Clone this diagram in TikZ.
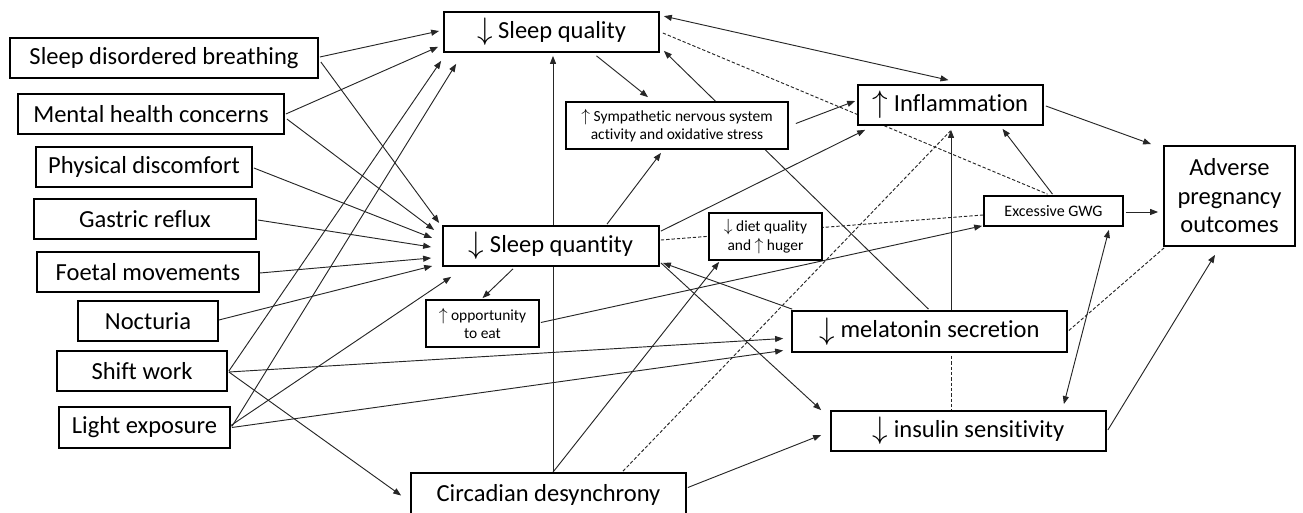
\documentclass[tikz,border=0pt]{standalone}
\usepackage{graphicx}
\usepackage{fontspec}
\setmainfont{Carlito}[Ligatures=NoCommon]
\usetikzlibrary{arrows.meta,calc,backgrounds}
\newcommand\dnarr{\raisebox{-0.06em}{\scalebox{1.35}{$\downarrow$}}}
\newcommand\uparr{\raisebox{-0.06em}{\scalebox{1.35}{$\uparrow$}}}
\newcommand\sdnarr{\scalebox{1.1}{$\downarrow$}}
\newcommand\suparr{\scalebox{1.1}{$\uparrow$}}
\begin{document}
\begin{tikzpicture}[x=0.75pt,y=-0.75pt,
  box/.style={draw=black, line width=1.3pt, fill=white, inner sep=0pt, align=center, font=\fontsize{18.4}{22}\selectfont},
  sbox/.style={box, font=\fontsize{11.6}{13.5}\selectfont},
  sz/.style 2 args={minimum width=#1*0.75pt, minimum height=#2*0.75pt},
  conn/.style={line width=0.7pt, draw=black!85, -{Triangle[length=6pt,width=4.5pt]}},
  twoway/.style={conn, {Triangle[length=6pt,width=4.5pt]}-{Triangle[length=6pt,width=4.5pt]}},
  dline/.style={line width=0.7pt, draw=black!85, dash pattern=on 2.5pt off 1.5pt},
]
\useasboundingbox (0,0) rectangle (1303,513);

\node[box, sz={215}{40}] (sq) at (551.5,32) {\dnarr\ Sleep quality};
\node[box, sz={308}{40}] (sdb) at (164,58) {Sleep disordered breathing};
\node[box, sz={266}{40}] (mhc) at (151,114) {Mental health concerns};
\node[box, sz={216}{40}] (pd) at (144,167) {Physical discomfort};
\node[box, sz={222}{40}] (gr) at (145,219) {Gastric reflux};
\node[box, sz={222}{40}] (fm) at (148,272) {Foetal movements};
\node[box, sz={140}{40}] (noct) at (148,321) {Nocturia};
\node[box, sz={170}{40}] (shift) at (142,371) {Shift work};
\node[box, sz={171}{41}] (light) at (144.5,427.5) {Light exposure};
\node[box, sz={216}{40}] (squant) at (551,246) {\dnarr\ Sleep quantity};
\node[sbox, sz={222}{47}] (sns) at (677,125.5) {\suparr\ Sympathetic nervous system\\activity and oxidative stress};
\node[sbox, sz={113}{47}, font=\fontsize{11.6}{14.5}\selectfont] (diet) at (765.5,236.5) {\sdnarr\ diet quality\\and \suparr\ huger};
\node[sbox, sz={113}{47}, font=\fontsize{11.6}{14}\selectfont] (opp) at (482.5,323.5) {\suparr\ opportunity\\to eat};
\node[box, sz={275}{43}] (circ) at (548.5,494.5) {Circadian desynchrony};
\node[box, sz={185}{40}] (infl) at (950.5,105) {\uparr\ Inflammation};
\node[box, sz={139}{30}, font=\fontsize{12}{14}\selectfont] (gwg) at (1053.5,211) {Excessive GWG};
\node[box, sz={131}{100}, font=\fontsize{18.4}{21.4}\selectfont] (apo) at (1229.5,196) {Adverse\\pregnancy\\outcomes};
\node[box, sz={275}{41}] (mel) at (929.5,331.5) {\dnarr\ melatonin secretion};
\node[box, sz={275}{40}] (ins) at (968.5,431) {\dnarr\ insulin sensitivity};

\begin{scope}[on background layer]
\draw[conn] ($(sdb.east)+(1,-1)$) -- ($(sq.west)+(-4,-1)$);
\draw[conn] ($(mhc.east)+(1,0)$) -- ($(sq.south west)+(-5,-6)$);
\draw[conn] ($(sdb.east)+(2,4)$) -- ($(squant.west)+(-3,-23)$);
\draw[conn] ($(mhc.east)+(2,5)$) -- ($(squant.west)+(-8,-16)$);
\draw[conn] ($(pd.east)+(1,1)$) -- ($(squant.west)+(-10,-8)$);
\draw[conn] ($(gr.east)+(1,1)$) -- ($(squant.west)+(-11,1)$);
\draw[conn] ($(fm.east)+(0,1)$) -- ($(squant.west)+(-11,12)$);
\draw[conn] ($(noct.east)+(0,-1)$) -- ($(squant.west)+(-10,20)$);
\draw[conn] ($(light.east)+(0,-2)$) -- ($(squant.south west)+(9,10)$);
\draw[conn] ($(shift.east)+(1,0)$) -- ($(sq.south west)+(-2,8)$);
\draw[conn] ($(light.east)+(1,-1)$) -- ($(sq.south west)+(13,11)$);
\draw[conn] ($(shift.east)+(1,1)$) -- ($(mel.west)+(-8,7)$);
\draw[conn] ($(light.east)+(1,0)$) -- ($(mel.west)+(-8,19)$);
\draw[conn] ($(shift.east)+(1,1)$) -- ($(circ.west)+(-9,1)$);
\draw[conn] ($(sq.south)+(45,3)$) -- ($(sns.north)+(-29,-4)$);
\draw[conn] ($(mel.north)+(-1,-1)$) -- ($(sq.south east)+(4,-2)$);
\draw[conn] ($(squant.north)+(56,-1)$) -- ($(sns.south)+(-16,3)$);
\draw[conn] ($(squant.north east)+(1,6)$) -- ($(infl.south west)+(8,4)$);
\draw[conn] ($(sns.east)+(7,-2)$) -- ($(infl.west)+(-2,-4)$);
\draw[twoway] ($(sq.north east)+(4,5)$) -- ($(infl.north)+(-2,-4)$);
\draw[dline] ($(sq.east)+(3,1)$) -- ($(gwg.north)+(-6,-1)$);
\draw[conn] ($(gwg.north)+(-1,-1)$) -- ($(infl.south)+(52,3)$);
\draw[conn] ($(infl.east)+(2,1)$) -- ($(apo.north west)+(-12,-1)$);
\draw[conn] ($(gwg.east)+(2,1)$) -- ($(apo.west)+(-5,16)$);
\draw[dline] ($(squant.east)+(1,-6)$) -- ($(gwg.west)+(0,4)$);
\draw[conn] ($(opp.east)+(1,-1)$) -- ($(gwg.south west)+(-1,-1)$);
\draw[conn] ($(squant.south)+(-38,2)$) -- ($(opp.north)+(0,-1)$);
\draw[conn] ($(circ.north)+(4.5,0)$) -- ($(sq.south)+(1.5,3)$);
\draw[conn] ($(circ.north)+(4.5,0)$) -- ($(diet.south west)+(11,1)$);
\draw[dline] ($(circ.north)+(74.5,-1)$) -- ($(infl.south)+(0,5)$);
\draw[conn] ($(mel.north)+(21.5,0)$) -- ($(infl.south)+(0.5,4)$);
\draw[dline] ($(mel.south)+(21.5,3)$) -- ($(ins.north)+(-17.5,0)$);
\draw[conn] ($(squant.south east)+(1,-4)$) -- ($(ins.north west)+(-9,0)$);
\draw[conn] ($(mel.north west)+(1,-1)$) -- ($(squant.south east)+(3,-4)$);
\draw[conn] ($(circ.east)+(1,-7)$) -- ($(ins.west)+(-9,4)$);
\draw[dline] ($(mel.east)+(1,-1)$) -- ($(apo.south west)+(1,1)$);
\draw[twoway] ($(gwg.south east)+(-15,3)$) -- ($(ins.north east)+(-43,-6)$);
\draw[conn] ($(ins.east)+(1,-1)$) -- ($(apo.south)+(-14.5,8)$);
\end{scope}
\end{tikzpicture}
\end{document}
